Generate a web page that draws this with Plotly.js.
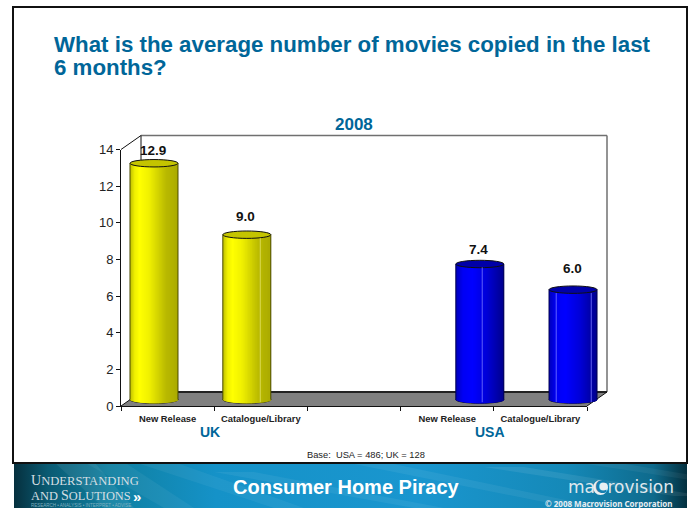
<!DOCTYPE html>
<html><head><meta charset="utf-8">
<script src="https://cdn.plot.ly/plotly-3.0.1.min.js"></script>
<style>html,body{margin:0;padding:0;background:#fff;overflow:hidden}#c{width:693px;height:508px}</style>
</head><body><div id="c"></div>
<script>
const categories=['New Release','Catalogue/Library','New Release','Catalogue/Library'];
const groups=['UK','USA'];
const values=[12.9,9.0,7.4,6.0];
const valueLabels=['12.9','9.0','7.4','6.0'];
const barSlots=[0.354,1.35,3.85,4.85];
const labelSlots=[0.5,1.5,3.5,4.5];
const groupSlots=[0.96,3.96];
const boundarySlots=[0,1,2,3,4,5];
const yTicks=[0,2,4,6,8,10,12,14];
const labelLift=[13,18,15,21];
const barFamily=['y','y','b','b'];
const highlights=[[],[0.78],[0.55],[0.15,0.88]];

const W=693,H=508;
const axL=121,axR=587,axT=149.5,axB=406;
const sx=(axR-axL)/5, sy=(axB-axT)/14;
// A second, invisible subplot sharing exactly the same scale, large enough for the 3-D offset
const ovL=100,ovR=630,ovT=110,ovB=425;
const xr2=[(ovL-axL)/sx,(ovR-axL)/sx], yr2=[(axB-ovB)/sy,(axB-ovT)/sy];
const depthX=20/sx, depthY=14/sy;
const lift=0.35, halfW=24/sx, halfH=3.7/sy;

function mix(a,b,t){return a.map((v,i)=>Math.round(v+(b[i]-v)*t));}
function ramp(stops,t){for(let i=1;i<stops.length;i++){if(t<=stops[i][0]){const s=stops[i-1],e=stops[i];const c=mix(s[1],e[1],(t-s[0])/(e[0]-s[0]));return `rgb(${c})`;}}return `rgb(${stops[stops.length-1][1]})`;}
const ramps={y:[[0,[190,190,0]],[0.1,[240,240,0]],[0.2,[255,255,0]],[0.4,[240,240,0]],[0.75,[185,185,0]],[1,[170,170,0]]],
             b:[[0,[0,0,185]],[0.15,[0,0,245]],[0.35,[0,0,255]],[0.65,[0,0,215]],[1,[0,0,140]]]};
const topFill={y:'#c4c400',b:'#0000a8'};
const sideLine={y:'#4a4a00',b:'#000050'};

const N=48, traces=[];
for(let k=0;k<N;k++){
  const t=(k+0.5)/N,u=2*t-1,w=2*halfW/N,bw=k<N-1?2*w:w;
  const base=values.map(()=>lift-halfH*Math.sqrt(1-u*u));
  traces.push({type:'bar',xaxis:'x2',yaxis:'y2',
    x:barSlots.map(s=>s-halfW+w*k+bw/2),
    y:values.map((v,i)=>v+lift-base[i]),
    base:base,width:bw,
    marker:{color:barFamily.map(f=>ramp(ramps[f],t)),line:{width:0}},
    hoverinfo:'skip',showlegend:false});
}
traces.push({type:'scatter',mode:'markers',xaxis:'x',yaxis:'y',x:labelSlots,y:values,marker:{opacity:0,size:1},hoverinfo:'skip',showlegend:false});

const S=[];
const line=(x0,y0,x1,y1,color,width,layer)=>S.push({type:'line',xref:'x2',yref:'y2',x0,y0,x1,y1,line:{color,width},layer:layer||'below'});
S.push({type:'path',xref:'x2',yref:'y2',layer:'below',fillcolor:'#808080',line:{width:0},
  path:`M0,0 L${depthX},${depthY} L${5+depthX},${depthY} L5,0 Z`});
line(depthX,14+depthY,5+depthX,14+depthY,'#707070',1.5);
line(5+depthX,depthY,5+depthX,14+depthY,'#707070',1.5);
line(depthX,depthY,depthX,14+depthY,'#111',1);
line(depthX,depthY,5+depthX,depthY,'#222',2);
line(0,14,depthX,14+depthY,'#111',1);
line(0,0,depthX,depthY,'#111',1);
line(5,0,5+depthX,depthY,'#111',1);
values.forEach((v,i)=>{
  const c=barSlots[i],f=barFamily[i];
  S.push({type:'circle',xref:'x2',yref:'y2',layer:'below',x0:c-halfW,x1:c+halfW,y0:lift-halfH,y1:lift+halfH,fillcolor:topFill[f],line:{color:'#111',width:1}});
  S.push({type:'circle',xref:'x2',yref:'y2',layer:'above',x0:c-halfW,x1:c+halfW,y0:v+lift-halfH,y1:v+lift+halfH,fillcolor:topFill[f],line:{color:'#111',width:1}});
  line(c-halfW,lift,c-halfW,v+lift,sideLine[f],1,'above');
  line(c+halfW,lift,c+halfW,v+lift,sideLine[f],1,'above');
  highlights[i].forEach(h=>{const xh=c-halfW+2*halfW*h;
    line(xh,lift-halfH*0.7,xh,v+lift-halfH*0.9,f==='y'?'rgba(235,235,120,0.7)':'rgba(120,120,255,0.8)',1,'above');});
});

const A=[];
const ann=(o)=>A.push(Object.assign({showarrow:false},o));
values.forEach((v,i)=>ann({xref:'x2',yref:'y2',x:barSlots[i]-0.01,y:v+lift,yshift:labelLift[i],text:valueLabels[i],xanchor:'center',yanchor:'middle',font:{family:'Liberation Sans',size:13.5,color:'#111',weight:700}}));
groups.forEach((g,i)=>ann({xref:'x',yref:'paper',x:groupSlots[i],y:1-432/H,text:g,xanchor:'center',yanchor:'middle',font:{family:'Liberation Sans',size:14,color:'#006699',weight:700}}));
const P=(px,py)=>({xref:'paper',yref:'paper',x:px/W,y:1-py/H});
ann({...P(54,68),text:'6 months?',xanchor:'left',yanchor:'middle',xshift:-2,font:{family:'Liberation Sans',size:22.3,color:'#006699',weight:700}});
ann({...P(354,124),text:'2008',xanchor:'center',yanchor:'middle',font:{family:'Liberation Sans',size:17,color:'#006699',weight:700}});
ann({...P(366,455),text:'Base:  USA = 486; UK = 128',xanchor:'center',yanchor:'middle',font:{family:'Liberation Sans',size:9.3,color:'#222'}});
ann({...P(347,487),text:'Consumer Home Piracy',xanchor:'center',yanchor:'middle',font:{family:'Liberation Sans',size:20,color:'#ffffff',weight:700}});
ann({...P(29,480),text:'<span style="font-size:14px">U</span>NDERSTANDING',xanchor:'left',yanchor:'middle',font:{family:'Liberation Serif',size:12.6,color:'#d5dfe3'}});
ann({...P(29,495),text:'AND <span style="font-size:14px">S</span>OLUTIONS',xanchor:'left',yanchor:'middle',font:{family:'Liberation Serif',size:12.4,color:'#d5dfe3'}});
ann({...P(131,496.5),text:'»',xanchor:'left',yanchor:'middle',font:{family:'Liberation Sans',size:15,color:'#ffffff',weight:700}});
ann({...P(29,505),text:'RESEARCH • ANALYSIS • INTERPRET • ADVISE',xanchor:'left',yanchor:'middle',font:{family:'Liberation Sans',size:4.5,color:'#7fb0c0'}});
S.push({type:'circle',xref:'paper',yref:'paper',layer:'above',x0:593/W,x1:608/W,y0:1-495/H,y1:1-480/H,fillcolor:'#e8f0f4',line:{width:0}});
ann({...P(621,487),text:'ma<span style="color:#1580b0"><b>C</b></span>rovision',xanchor:'center',yanchor:'middle',font:{family:'DejaVu Sans',size:17,color:'#dfe8ee'}});
ann({...P(609,503),text:'© 2008 Macrovision Corporation',xanchor:'center',yanchor:'middle',font:{family:'Noto Sans',size:8,color:'#e8eef2',weight:700}});

S.push({type:'rect',xref:'paper',yref:'paper',layer:'below',x0:13/W,x1:687/W,y0:1-463/H,y1:1-7/H,fillcolor:'rgba(0,0,0,0)',line:{color:'#111',width:2}});

const streaks=[[40,0,90,46,.07],[70,0,150,46,.05],[120,0,260,46,.05],[200,10,400,46,.06],[330,0,560,46,.06],[470,5,660,34,.08],[560,0,690,20,.05]]
  .map(s=>`<polygon points="${s[0]},${s[1]} ${s[0]+40},${s[1]} ${s[2]+30},${s[3]} ${s[2]},${s[3]}" fill="#ffffff" opacity="${s[4]}"/>`).join('');
const svg=`<svg xmlns="http://www.w3.org/2000/svg" width="673" height="46"><defs><linearGradient id="g" x1="0" x2="1" y1="0" y2="0">
<stop offset="0" stop-color="#06303e"/><stop offset=".05" stop-color="#0a5a72"/><stop offset=".14" stop-color="#0f7fa0"/><stop offset=".3" stop-color="#1592c8"/><stop offset=".6" stop-color="#1a96cf"/><stop offset=".82" stop-color="#1589b8"/><stop offset=".95" stop-color="#0e6a8c"/><stop offset="1" stop-color="#04303f"/></linearGradient></defs>
<rect width="673" height="46" fill="url(#g)"/>${streaks}</svg>`;
const banner='data:image/svg+xml;charset=utf-8,'+encodeURIComponent(svg);

const layout={
  width:W,height:H,margin:{l:0,r:0,t:0,b:0},paper_bgcolor:'#ffffff',plot_bgcolor:'rgba(0,0,0,0)',
  barmode:'overlay',showlegend:false,hovermode:false,
  font:{family:'Liberation Sans'},
  title:{text:'What is the average number of movies copied in the last',x:54/W,xanchor:'left',xref:'paper',y:1-44/H,yanchor:'middle',
    font:{family:'Liberation Sans',size:22.3,color:'#006699',weight:700}},
  xaxis:{domain:[axL/W,axR/W],range:[0,5],anchor:'y',showgrid:false,zeroline:false,showline:true,linecolor:'#111',linewidth:1,
    tickmode:'array',tickvals:labelSlots,ticktext:categories,ticks:'',ticklabelstandoff:4,
    tickfont:{family:'Liberation Sans',size:9.4,color:'#222',weight:700},
    minor:{tickmode:'array',tickvals:boundarySlots,ticks:'outside',ticklen:4,tickcolor:'#111',tickwidth:1,showgrid:false}},
  yaxis:{domain:[1-axB/H,1-axT/H],range:[0,14],anchor:'x',showgrid:false,zeroline:false,showline:true,linecolor:'#111',linewidth:1,
    tickmode:'array',tickvals:yTicks,ticks:'outside',ticklen:4,tickcolor:'#111',
    tickfont:{family:'Liberation Sans',size:13,color:'#222'}},
  xaxis2:{domain:[ovL/W,ovR/W],range:xr2,anchor:'y2',visible:false,fixedrange:true},
  yaxis2:{domain:[1-ovB/H,1-ovT/H],range:yr2,anchor:'x2',visible:false,fixedrange:true},
  shapes:S,annotations:A,
  images:[{source:banner,xref:'paper',yref:'paper',x:14/W,y:1-462/H,sizex:673/W,sizey:46/H,sizing:'stretch',xanchor:'left',yanchor:'top',layer:'below'}]
};
Plotly.newPlot('c',traces,layout,{displayModeBar:false,staticPlot:true});
</script></body></html>
